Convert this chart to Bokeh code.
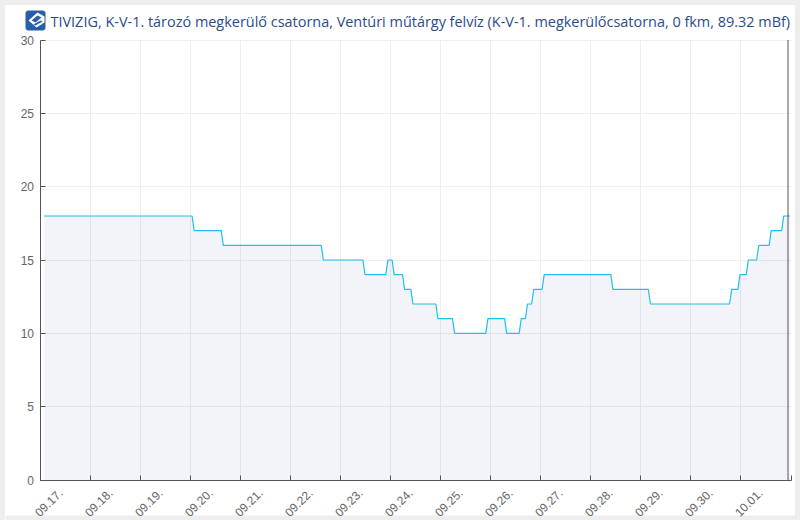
from bokeh.plotting import figure
from bokeh.embed import file_html
from bokeh.resources import INLINE
from bokeh.models import (Range1d, FixedTicker, Label, ColumnDataSource,
                          BoxAnnotation, PolyAnnotation)

TITLE = "TIVIZIG, K-V-1. tározó megkerülő csatorna, Ventúri műtárgy felvíz (K-V-1. megkerülőcsatorna, 0 fkm, 89.32 mBf)"
day_labels = ["09.17.", "09.18.", "09.19.", "09.20.", "09.21.", "09.22.", "09.23.", "09.24.",
              "09.25.", "09.26.", "09.27.", "09.28.", "09.29.", "09.30.", "10.01."]
day_hours = [0, 24, 48, 72, 96, 120, 144, 168, 192, 216, 240, 264, 288, 312, 336]
y_ticks = [0, 5, 10, 15, 20, 25, 30]
# hours since 09.17. 00:00 and water level
hours = [2, 73, 74, 87, 88, 135, 136, 155, 156, 166, 167, 169, 170, 174, 175, 178, 179,
         190, 191, 198, 199, 214, 215, 223, 224, 230, 231, 233, 234, 236, 237, 241, 242,
         274, 275, 292, 293, 331, 332, 335, 336, 339, 340, 344, 345, 350, 351, 356, 357, 360]
level = [18, 18, 17, 17, 16, 16, 15, 15, 14, 14, 15, 15, 14, 14, 13, 13, 12,
         12, 11, 11, 10, 10, 11, 11, 10, 10, 11, 11, 12, 12, 13, 13, 14,
         14, 13, 13, 12, 12, 13, 13, 14, 14, 15, 15, 16, 16, 17, 17, 18, 18]
now_hour = 359.04
x_end = 360.5
y_max = 30

# The frame fills the white card and the bottom edge (page px 5..795 x 5..520);
# axes sit inside it at fixed locations.
W, H = 790, 515
PX_PER_HOUR = 50 / 24
PX_PER_UNIT = 440 / 30


def sx(v):
    return v - 5


def sy(v):
    return 520 - v


def box(l, r, t, b, **kw):
    return BoxAnnotation(left=sx(l), right=sx(r), top=sy(t), bottom=sy(b), left_units="screen",
                         right_units="screen", top_units="screen", bottom_units="screen", **kw)


def poly(points, color):
    return PolyAnnotation(xs=[sx(a) for a, _ in points], ys=[sy(b) for _, b in points],
                          xs_units="screen", ys_units="screen", fill_color=color, fill_alpha=1,
                          line_color=None)


x0 = -34.5 / PX_PER_HOUR
y0 = -40.5 / PX_PER_UNIT
p = figure(width=W, height=H, output_backend="svg", toolbar_location=None,
           x_range=Range1d(x0, x0 + W / PX_PER_HOUR), y_range=Range1d(y0, y0 + H / PX_PER_UNIT),
           min_border_left=0, min_border_right=0, min_border_top=0, min_border_bottom=0,
           background_fill_color="white", border_fill_color="white", outline_line_color=None)
p.styles = {"position": "absolute", "left": "5px", "top": "5px", "outline": "5px solid #eeeeee"}

# grey page edge below the card, under the tick labels
p.add_layout(box(5, 795, 515, 520, fill_color="#eeeeee", fill_alpha=1, line_color=None, level="image"))

p.xaxis.fixed_location = 0
p.yaxis.fixed_location = 0
p.xaxis.bounds = (0, x_end)
p.yaxis.bounds = (0, y_max)
p.xaxis.ticker = FixedTicker(ticks=day_hours + [x_end])
p.xaxis.major_label_text_color = None
p.xaxis.major_label_text_font_size = "1px"
p.yaxis.ticker = FixedTicker(ticks=y_ticks)
for ax in (p.xaxis, p.yaxis):
    ax.axis_line_color = "#555555"
    ax.major_tick_line_color = "#555555"
    ax.major_tick_in = 5
    ax.major_tick_out = 0
    ax.minor_tick_line_color = None
p.yaxis.major_label_text_font = "Liberation Sans"
p.yaxis.major_label_text_font_size = "12px"
p.yaxis.major_label_text_color = "#666666"
p.yaxis.major_label_standoff = 6
p.xgrid.ticker = FixedTicker(ticks=day_hours)
p.ygrid.ticker = FixedTicker(ticks=y_ticks)
p.xgrid.grid_line_color = "#eeeeee"
p.ygrid.grid_line_color = "#eeeeee"
p.xgrid.cross_bounds = (0, y_max)
p.ygrid.cross_bounds = (0, x_end)

src = ColumnDataSource(dict(h=hours, v=level, z=[0] * len(hours)))
p.varea(x="h", y1="z", y2="v", source=src, fill_color="#26378a", fill_alpha=0.055)
p.line(x="h", y="v", source=src, line_color="#1fc0f0", line_width=1.2)
p.segment(x0=[now_hour], y0=[0], x1=[now_hour], y1=[y_max], line_color="#555555", line_width=1)

for h, t in zip(day_hours, day_labels):
    p.add_layout(Label(x=h, y=0, text=t, angle=45, angle_units="deg", x_offset=8.5, y_offset=-22.5,
                       text_font_size="12px", text_font="Liberation Sans", text_color="#666666",
                       text_align="center", text_baseline="middle"))

p.add_layout(Label(x=sx(50), y=sy(21), x_units="screen", y_units="screen", text=TITLE,
                   text_font="Open Sans", text_font_size="14.45px", text_color="#2a4b8d",
                   text_baseline="middle", text_align="left"))
# logo
p.add_layout(box(25, 45, 10, 30, fill_color="#2a5da8", fill_alpha=1, line_color="#9db2d0", border_radius=3))
p.add_layout(poly([(28, 20), (37, 12), (44, 16), (44, 22), (36, 27)], "white"))
p.add_layout(poly([(31, 20), (37, 15), (41, 17), (35, 22)], "#2a5da8"))
p.add_layout(poly([(33, 24), (40, 20), (42, 21), (35, 25)], "#2a5da8"))
open("out.html", "w").write(file_html(p, INLINE))
